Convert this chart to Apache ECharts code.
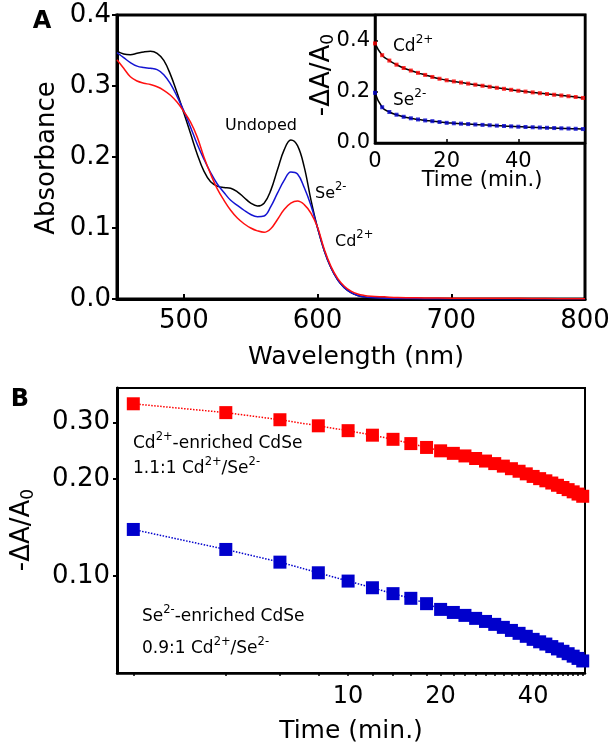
<!DOCTYPE html>
<html><head><meta charset="utf-8">
<script src="https://cdn.jsdelivr.net/npm/echarts@6/dist/echarts.min.js"></script>
<style>html,body{margin:0;padding:0;background:#fff}#c{width:614px;height:750px}</style>
</head><body><div id="c"></div>
<script>
// ---------- Panel A: absorption spectra ----------
const wavelength = [450,455,460,465,470,475,480,485,490,495,500,505,510,515,520,525,530,535,540,545,550,555,560,565,570,575,580,585,590,595,600,605,610,615,620,625,630,635,640,650,660,680,700,720,740,760,780,800];
const absUndoped = [0.349,0.345,0.344,0.346,0.348,0.349,0.346,0.336,0.316,0.290,0.262,0.233,0.204,0.180,0.165,0.159,0.157,0.156,0.151,0.143,0.135,0.131,0.135,0.153,0.182,0.210,0.224,0.216,0.186,0.140,0.100,0.068,0.044,0.027,0.016,0.009,0.005,0.003,0.002,0.001,0.0008,0.0005,0.0004,0.0003,0.0003,0.0003,0.0002,0.0002];
const absSe = [0.347,0.340,0.333,0.328,0.326,0.325,0.323,0.316,0.303,0.285,0.265,0.242,0.218,0.197,0.178,0.162,0.150,0.139,0.132,0.125,0.119,0.116,0.117,0.130,0.149,0.167,0.179,0.176,0.157,0.132,0.100,0.068,0.044,0.027,0.016,0.009,0.005,0.003,0.002,0.001,0.0008,0.0005,0.0004,0.0003,0.0003,0.0003,0.0003,0.0003];
const absCd = [0.337,0.325,0.313,0.307,0.304,0.302,0.299,0.294,0.287,0.277,0.264,0.249,0.228,0.200,0.176,0.155,0.139,0.125,0.114,0.106,0.100,0.096,0.094,0.099,0.112,0.126,0.135,0.138,0.133,0.121,0.101,0.070,0.046,0.029,0.018,0.011,0.007,0.005,0.004,0.003,0.002,0.0015,0.0012,0.001,0.001,0.0008,0.0005,0.0003];
const wlTicks = [500,600,700,800];

// ---------- Inset: -dA/A0 vs time ----------
const timeInset = [0,2,4,6,8,10,12,14,16,18,20,22,24,26,28,30,32,34,36,38,40,42,44,46,48,50,52,54,56,58];
const insetCd = [0.389,0.343,0.322,0.306,0.293,0.283,0.274,0.266,0.258,0.251,0.245,0.2406,0.2362,0.2319,0.2277,0.2236,0.2196,0.2156,0.2117,0.2078,0.204,0.2008,0.1977,0.1946,0.1915,0.1885,0.1856,0.1827,0.1798,0.176];
const insetSe = [0.196,0.1396,0.121,0.1105,0.1024,0.0965,0.092,0.0882,0.0853,0.0821,0.0788,0.0771,0.0755,0.0739,0.0723,0.0708,0.0693,0.0678,0.0664,0.065,0.0636,0.0625,0.0615,0.0604,0.0594,0.0584,0.0574,0.0564,0.0555,0.0545];
const insetTimeTicks = [0,20,40];
const insetValTicks = [0,0.2,0.4];

// ---------- Panel B: log-log decay ----------
const timeB = [2,4,6,8,10,12,14,16,18,20,22,24,26,28,30,32,34,36,38,40,42,44,46,48,50,52,54,56,58];
const decayCd = [0.343,0.322,0.306,0.293,0.283,0.274,0.266,0.258,0.251,0.245,0.2406,0.2362,0.2319,0.2277,0.2236,0.2196,0.2156,0.2117,0.2078,0.204,0.2008,0.1977,0.1946,0.1915,0.1885,0.1856,0.1827,0.1798,0.177];
const decaySe = [0.1396,0.121,0.1105,0.1024,0.0965,0.092,0.0882,0.0853,0.0821,0.0788,0.0771,0.0755,0.0739,0.0723,0.0708,0.0693,0.0678,0.0664,0.065,0.0636,0.0625,0.0615,0.0604,0.0594,0.0584,0.0574,0.0564,0.0555,0.0545];
const timeBLabels = [10,20,40];
const decayLabels = [0.1,0.2,0.3];

const FONT = 'DejaVu Sans';
const zip = (xs, ys) => xs.map((x, i) => [x, ys[i]]);

const mctx = document.createElement('canvas').getContext('2d');
function tw(t, s, wt) { mctx.font = (wt || 'normal') + ' ' + s + 'px "' + FONT + '"'; return mctx.measureText(t).width; }
// parts: [text, fontSize, dy]  (dy shifts super/subscripts)
function richLabel(x, y, parts, align, rot) {
  const total = parts.reduce((s, p) => s + tw(p[0], p[1]), 0);
  let cx = align === 'center' ? -total / 2 : 0;
  const children = parts.map(p => {
    const el = { type: 'text', x: cx, y: p[2] || 0,
      style: { text: p[0], fontSize: p[1], fontFamily: FONT, fill: '#000', align: 'left', verticalAlign: 'middle' } };
    cx += tw(p[0], p[1]);
    return el;
  });
  return { type: 'group', x: x, y: y, rotation: rot || 0, children: children };
}
const SUP = -7, SUPS = 11.5, ANN = 17;
const axisLineStyle = w => ({ show: true, lineStyle: { color: '#000', width: w } });

const chart = echarts.init(document.getElementById('c'), null, { renderer: 'canvas' });
chart.setOption({
  animation: false,
  backgroundColor: '#fff',
  grid: [
    { left: 117, top: 15, width: 468, height: 284, show: true, borderColor: '#000', borderWidth: 3, backgroundColor: 'transparent', containLabel: false, outerBoundsMode: 'none' },
    { left: 375, top: 15, width: 210, height: 128, show: true, borderColor: '#000', borderWidth: 2.5, backgroundColor: '#fff', containLabel: false, outerBoundsMode: 'none' },
    { left: 117, top: 388, width: 468, height: 285, show: true, borderColor: '#000', borderWidth: 2, backgroundColor: 'transparent', containLabel: false, outerBoundsMode: 'none' }
  ],
  xAxis: [
    { gridIndex: 0, type: 'value', min: 450, max: 800,
      axisLine: axisLineStyle(3), splitLine: { show: false },
      axisTick: { show: true, inside: true, length: 5, lineStyle: { color: '#000', width: 2 }, customValues: wlTicks },
      axisLabel: { customValues: wlTicks, fontSize: 26, fontFamily: FONT, color: '#000', margin: 9 } },
    { gridIndex: 1, type: 'value', min: 0, max: 58.6,
      axisLine: axisLineStyle(2.5), splitLine: { show: false },
      axisTick: { show: true, inside: true, length: 4, lineStyle: { color: '#000', width: 1.5 }, customValues: insetTimeTicks },
      axisLabel: { customValues: insetTimeTicks, fontSize: 21, fontFamily: FONT, color: '#000', margin: 8 } },
    { gridIndex: 2, type: 'log', logBase: 10, min: 1.77, max: 59,
      axisLine: axisLineStyle(2.5), splitLine: { show: false }, minorTick: { show: false },
      axisTick: { show: true, inside: false, length: 3, lineStyle: { color: '#000', width: 1.5 }, customValues: timeB },
      axisLabel: { customValues: timeBLabels, fontSize: 24, fontFamily: FONT, color: '#000', margin: 12, formatter: v => String(Math.round(v)) } }
  ],
  yAxis: [
    { gridIndex: 0, type: 'value', min: 0, max: 0.4, interval: 0.1,
      axisLine: axisLineStyle(3), splitLine: { show: false },
      axisTick: { show: true, inside: false, length: 5, lineStyle: { color: '#000', width: 2 } },
      axisLabel: { fontSize: 26, fontFamily: FONT, color: '#000', margin: 6, formatter: v => v.toFixed(1) } },
    { gridIndex: 1, type: 'value', min: 0, max: 0.5,
      axisLine: axisLineStyle(2.5), splitLine: { show: false },
      axisTick: { show: true, inside: true, length: 3, lineStyle: { color: '#000', width: 1.5 }, customValues: insetValTicks },
      axisLabel: { customValues: insetValTicks, fontSize: 21, fontFamily: FONT, color: '#000', margin: 5, formatter: v => v.toFixed(1) } },
    { gridIndex: 2, type: 'log', logBase: 10, min: 0.05, max: 0.384,
      axisLine: axisLineStyle(3), splitLine: { show: false }, minorTick: { show: false },
      axisTick: { show: true, inside: false, length: 4, lineStyle: { color: '#000', width: 2 }, customValues: decayLabels },
      axisLabel: { customValues: decayLabels, fontSize: 26, fontFamily: FONT, color: '#000', margin: 7, formatter: v => v.toFixed(2) } }
  ],
  series: [
    { type: 'line', xAxisIndex: 0, yAxisIndex: 0, data: zip(wavelength, absUndoped), smooth: 0.4, showSymbol: false, symbol: 'none', lineStyle: { color: '#000', width: 1.5 }, z: 3 },
    { type: 'line', xAxisIndex: 0, yAxisIndex: 0, data: zip(wavelength, absSe), smooth: 0.4, showSymbol: false, symbol: 'none', lineStyle: { color: '#1414d2', width: 1.5 }, z: 3 },
    { type: 'line', xAxisIndex: 0, yAxisIndex: 0, data: zip(wavelength, absCd), smooth: 0.4, showSymbol: false, symbol: 'none', lineStyle: { color: '#ff1010', width: 1.5 }, z: 3 },
    { type: 'line', xAxisIndex: 1, yAxisIndex: 1, data: zip(timeInset, insetCd), smooth: 0.5, showSymbol: false, symbol: 'none', lineStyle: { color: '#000', width: 1.5 }, z: 6 },
    { type: 'line', xAxisIndex: 1, yAxisIndex: 1, data: zip(timeInset, insetSe), smooth: 0.5, showSymbol: false, symbol: 'none', lineStyle: { color: '#000', width: 1.5 }, z: 6 },
    { type: 'scatter', xAxisIndex: 1, yAxisIndex: 1, data: zip(timeInset, insetCd), symbol: 'rect', symbolSize: 4, itemStyle: { color: '#ff0000' }, z: 7 },
    { type: 'scatter', xAxisIndex: 1, yAxisIndex: 1, data: zip(timeInset, insetSe), symbol: 'rect', symbolSize: 4, itemStyle: { color: '#0000cc' }, z: 7 },
    { type: 'line', xAxisIndex: 2, yAxisIndex: 2, data: zip(timeB, decayCd), symbol: 'rect', symbolSize: 13, showSymbol: true, itemStyle: { color: '#ff0000' }, lineStyle: { color: '#ff0000', width: 1.5, type: 'dotted' }, z: 3 },
    { type: 'line', xAxisIndex: 2, yAxisIndex: 2, data: zip(timeB, decaySe), symbol: 'rect', symbolSize: 13, showSymbol: true, itemStyle: { color: '#0000cc' }, lineStyle: { color: '#0000cc', width: 1.5, type: 'dotted' }, z: 3 }
  ],
  graphic: [
    { type: 'text', x: 42, y: 22, style: { text: 'A', fontSize: 24, fontWeight: 'bold', fontFamily: FONT, fill: '#000', align: 'center', verticalAlign: 'middle' } },
    { type: 'text', x: 20, y: 400, style: { text: 'B', fontSize: 24, fontWeight: 'bold', fontFamily: FONT, fill: '#000', align: 'center', verticalAlign: 'middle' } },
    richLabel(47, 158, [['Absorbance', 26]], 'center', Math.PI / 2),
    richLabel(356, 357, [['Wavelength (nm)', 25]], 'center'),
    richLabel(225, 126, [['Undoped', 16]], 'left'),
    richLabel(315, 194, [['Se', 16], ['2-', SUPS, SUP]], 'left'),
    richLabel(335, 242, [['Cd', 16], ['2+', SUPS, SUP]], 'left'),
    richLabel(393, 47, [['Cd', 17], ['2+', 12, -7]], 'left'),
    richLabel(393, 101, [['Se', 17], ['2-', 12, -7]], 'left'),
    richLabel(322, 75, [['-ΔA/A', 26], ['0', 17, 7]], 'center', Math.PI / 2),
    richLabel(482, 181, [['Time (min.)', 21]], 'center'),
    richLabel(22, 530, [['-ΔA/A', 26], ['0', 17, 7]], 'center', Math.PI / 2),
    richLabel(351, 731, [['Time (min.)', 25]], 'center'),
    richLabel(133, 444, [['Cd', ANN], ['2+', SUPS, SUP], ['-enriched CdSe', ANN]], 'left'),
    richLabel(133, 469, [['1.1:1 Cd', ANN], ['2+', SUPS, SUP], ['/Se', ANN], ['2-', SUPS, SUP]], 'left'),
    richLabel(142, 617, [['Se', ANN], ['2-', SUPS, SUP], ['-enriched CdSe', ANN]], 'left'),
    richLabel(142, 649, [['0.9:1 Cd', ANN], ['2+', SUPS, SUP], ['/Se', ANN], ['2-', SUPS, SUP]], 'left')
  ]
});
</script>
</body></html>
